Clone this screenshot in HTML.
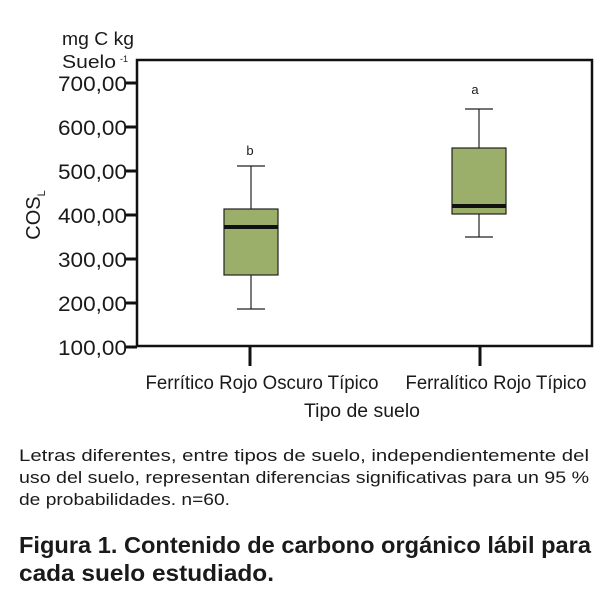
<!DOCTYPE html>
<html><head><meta charset="utf-8"><style>
html,body{margin:0;padding:0;background:#fff;}
svg{display:block;}
text{font-family:"Liberation Sans",Arial,sans-serif;fill:#1a1a1a;}
</style></head><body>
<svg width="613" height="594" viewBox="0 0 613 594" xmlns="http://www.w3.org/2000/svg">
<text x="62" y="45" font-size="18.5" textLength="72" lengthAdjust="spacingAndGlyphs">mg C kg</text>
<text x="62" y="68" font-size="18.5" textLength="54" lengthAdjust="spacingAndGlyphs">Suelo</text>
<text x="120" y="62" font-size="9">-1</text>
<rect x="137" y="60" width="455" height="286" fill="none" stroke="#111" stroke-width="2.5"/>
<g stroke="#111" stroke-width="3">
<line x1="126" y1="83" x2="137" y2="83"/>
<line x1="126" y1="127" x2="137" y2="127"/>
<line x1="126" y1="171" x2="137" y2="171"/>
<line x1="126" y1="215" x2="137" y2="215"/>
<line x1="126" y1="259" x2="137" y2="259"/>
<line x1="126" y1="303" x2="137" y2="303"/>
<line x1="126" y1="347" x2="137" y2="347"/>
<line x1="250" y1="347" x2="250" y2="366"/>
<line x1="480" y1="347" x2="480" y2="366"/>
</g>
<g font-size="21" text-anchor="end">
<text x="127" y="91" textLength="69" lengthAdjust="spacingAndGlyphs">700,00</text>
<text x="127" y="135" textLength="69" lengthAdjust="spacingAndGlyphs">600,00</text>
<text x="127" y="179" textLength="69" lengthAdjust="spacingAndGlyphs">500,00</text>
<text x="127" y="223" textLength="69" lengthAdjust="spacingAndGlyphs">400,00</text>
<text x="127" y="267" textLength="69" lengthAdjust="spacingAndGlyphs">300,00</text>
<text x="127" y="311" textLength="69" lengthAdjust="spacingAndGlyphs">200,00</text>
<text x="127" y="355" textLength="69" lengthAdjust="spacingAndGlyphs">100,00</text>
</g>
<g transform="translate(40,215) rotate(-90)">
<text x="0" y="0" font-size="20" text-anchor="middle">COS<tspan font-size="11" dy="5">L</tspan></text>
</g>
<g stroke="#222" stroke-width="1.2">
<line x1="251" y1="166" x2="251" y2="209"/>
<line x1="251" y1="275" x2="251" y2="309"/>
<line x1="237" y1="166" x2="265" y2="166"/>
<line x1="237" y1="309" x2="265" y2="309"/>
<rect x="224" y="209" width="54" height="66" fill="#9caf6a"/>
<line x1="479" y1="109" x2="479" y2="148"/>
<line x1="479" y1="214" x2="479" y2="237"/>
<line x1="465" y1="109" x2="493" y2="109"/>
<line x1="465" y1="237" x2="493" y2="237"/>
<rect x="452" y="148" width="54" height="66" fill="#9caf6a"/>
</g>
<line x1="224" y1="227" x2="278" y2="227" stroke="#111" stroke-width="4"/>
<line x1="452" y1="206" x2="506" y2="206" stroke="#111" stroke-width="4"/>
<text x="250" y="155" font-size="13" text-anchor="middle">b</text>
<text x="475" y="94" font-size="13" text-anchor="middle">a</text>
<text x="262" y="389" font-size="19" text-anchor="middle" textLength="233" lengthAdjust="spacingAndGlyphs">Ferrítico Rojo Oscuro Típico</text>
<text x="496" y="389" font-size="19" text-anchor="middle" textLength="181" lengthAdjust="spacingAndGlyphs">Ferralítico Rojo Típico</text>
<text x="362" y="417" font-size="19" text-anchor="middle" textLength="116" lengthAdjust="spacingAndGlyphs">Tipo de suelo</text>
<g font-size="16.5" fill="#222">
<text x="19" y="461" textLength="570" lengthAdjust="spacingAndGlyphs">Letras diferentes, entre tipos de suelo, independientemente del</text>
<text x="19" y="483" textLength="570" lengthAdjust="spacingAndGlyphs">uso del suelo, representan diferencias significativas para un 95 %</text>
<text x="19" y="505" textLength="211" lengthAdjust="spacingAndGlyphs">de probabilidades. n=60.</text>
</g>
<g font-size="23" font-weight="bold" fill="#111">
<text x="19" y="553" textLength="572" lengthAdjust="spacingAndGlyphs">Figura 1. Contenido de carbono orgánico lábil para</text>
<text x="19" y="581" textLength="255" lengthAdjust="spacingAndGlyphs">cada suelo estudiado.</text>
</g>
</svg>
</body></html>
